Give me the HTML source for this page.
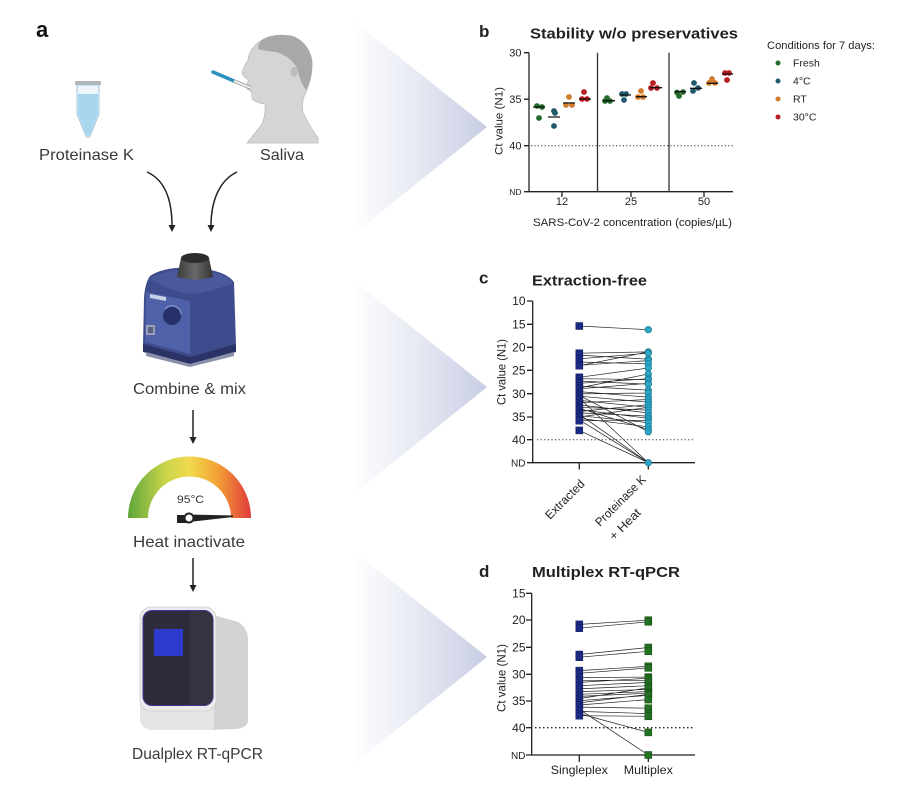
<!DOCTYPE html>
<html><head><meta charset="utf-8"><style>
html,body{margin:0;padding:0;background:#fff;}
svg{display:block;}
text{font-family:"Liberation Sans",Arial,sans-serif;}
</style></head><body>
<svg width="914" height="792" viewBox="0 0 914 792" xmlns="http://www.w3.org/2000/svg">
<defs>
<linearGradient id="chev" x1="0" y1="0" x2="1" y2="0">
<stop offset="0" stop-color="#ffffff"/><stop offset="0.4" stop-color="#eceef6"/><stop offset="1" stop-color="#c8cde3"/>
</linearGradient>
<linearGradient id="gauge" gradientUnits="userSpaceOnUse" x1="128" y1="0" x2="251" y2="0">
<stop offset="0" stop-color="#5fa63c"/><stop offset="0.3" stop-color="#c8d44a"/><stop offset="0.5" stop-color="#f1d94e"/><stop offset="0.72" stop-color="#f2a434"/><stop offset="1" stop-color="#e03a3c"/>
</linearGradient>
<linearGradient id="cap" x1="0" y1="0" x2="1" y2="0">
<stop offset="0" stop-color="#3a3a3a"/><stop offset="0.5" stop-color="#6a6a6a"/><stop offset="1" stop-color="#333"/>
</linearGradient>
</defs>

<!-- chevrons -->
<polygon points="350,18 487,127 350,237" fill="url(#chev)"/>
<polygon points="350,278 487,387 350,497" fill="url(#chev)"/>
<polygon points="350,548 487,657 350,767" fill="url(#chev)"/>

<!-- Panel a -->
<text x="36" y="37" font-size="22" font-weight="bold" fill="#111">a</text>

<!-- tube -->
<rect x="75" y="81" width="26" height="4" rx="1" fill="#b5b5b5"/>
<path d="M77,85 L99,85 L99,114 L90,136 Q88,139 86,136 L77,114 Z" fill="#eef6fb" stroke="#9cc4dc" stroke-width="1"/>
<path d="M78,94 L98,94 L98,114 L89.5,135 Q88,137 86.5,135 L78,114 Z" fill="#a9d5ef"/>

<!-- person -->
<path d="M262,40 Q273,33 292,36 Q308,42 312,60 Q313,78 305,94 Q301,104 303,112 Q308,124 318,138 L318,143 L247,143 Q256,132 262,124 Q266,114 265,104 Q258,103 253,100 Q251,96 252,92 L247,89 Q246,84 249,80 Q244,78 242,73 Q244,66 248,60 Q249,48 262,40 Z" fill="#d5d5d5" stroke="#bdbdbd" stroke-width="0.8"/>
<path d="M262,40 Q273,33 292,36 Q308,42 312,60 Q313,76 306,90 Q300,82 297,68 Q290,56 276,52 Q266,51 258,49 Q258,44 262,40 Z" fill="#a8a8a8"/>
<ellipse cx="294" cy="72" rx="3.5" ry="5" fill="#bcbcbc"/>
<line x1="213" y1="72" x2="234" y2="81" stroke="#2e90bf" stroke-width="3.5" stroke-linecap="round"/>
<line x1="234" y1="81" x2="251" y2="88" stroke="#999" stroke-width="3.5"/>
<line x1="234" y1="81" x2="251" y2="88" stroke="#f2f2f2" stroke-width="2"/>

<text x="39" y="160" font-size="16" fill="#3a3a3a" textLength="95" lengthAdjust="spacingAndGlyphs">Proteinase K</text>
<text x="260" y="160" font-size="16" fill="#3a3a3a" textLength="44" lengthAdjust="spacingAndGlyphs">Saliva</text>

<!-- curved arrows -->
<path d="M147,172 C165,180 172,200 172,226" fill="none" stroke="#222" stroke-width="1.5"/>
<polygon points="168.5,225 175.5,225 172,232" fill="#222"/>
<path d="M237,172 C220,180 211,200 211,226" fill="none" stroke="#222" stroke-width="1.5"/>
<polygon points="207.5,225 214.5,225 211,232" fill="#222"/>

<!-- vortex -->
<path d="M150,276 Q165,266 195,268 Q225,270 234,282 L236,345 Q214,356 190,362 Q165,356 143,346 L144,298 Q145,283 150,276 Z" fill="#3e4b8c"/>
<path d="M150,278 Q170,268 195,270 Q225,272 233,283 Q212,292 190,294 Q165,290 150,278 Z" fill="#4a589c"/>
<path d="M146,292 L190,301 L190,354 L145,342 Z" fill="#4f61a8"/>
<polygon points="150,294 166,297 166,301 150,298" fill="#c9d0ea"/>
<circle cx="172" cy="316" r="9" fill="#27306b"/>
<path d="M165,309 A9,9 0 0 1 181,314" fill="none" stroke="#8e9ad0" stroke-width="1"/>
<rect x="146" y="325" width="9" height="10" fill="#9aa0b8"/>
<rect x="148" y="327" width="5" height="6" fill="#5a6080"/>
<path d="M143,344 L190,357 L236,344 L236,352 L190,364 L143,352 Z" fill="#2b3366"/>
<path d="M146,352 L190,364 L234,352 L234,356 L190,367 L146,356 Z" fill="#8a90aa"/>
<path d="M181,258 L209,258 L213,277 Q195,282 177,277 Z" fill="url(#cap)"/>
<ellipse cx="195" cy="258" rx="14" ry="5" fill="#2c2c2c"/>

<text x="133" y="394" font-size="16" fill="#3a3a3a" textLength="113" lengthAdjust="spacingAndGlyphs">Combine &amp; mix</text>

<!-- arrow -->
<line x1="193" y1="410" x2="193" y2="438" stroke="#222" stroke-width="1.5"/>
<polygon points="189.5,437 196.5,437 193,444" fill="#222"/>

<!-- gauge -->
<path d="M128,518 A61.5,61.5 0 0 1 251,518 L231,518 A41.5,41.5 0 0 0 148,518 Z" fill="url(#gauge)"/>
<text x="177" y="503" font-size="11" fill="#333" textLength="27" lengthAdjust="spacingAndGlyphs">95°C</text>
<polygon points="189,514.5 233,515.5 233,517 189,522" fill="#222"/>
<rect x="177" y="515" width="11" height="8" fill="#222"/>
<circle cx="189" cy="518" r="4.5" fill="#fff" stroke="#222" stroke-width="2"/>

<text x="133" y="547" font-size="16" fill="#3a3a3a" textLength="112" lengthAdjust="spacingAndGlyphs">Heat inactivate</text>

<line x1="193" y1="558" x2="193" y2="586" stroke="#222" stroke-width="1.5"/>
<polygon points="189.5,585 196.5,585 193,592" fill="#222"/>

<!-- qPCR machine -->
<path d="M210,614 L238,622 Q248,628 248,640 L248,722 Q246,728 236,729 L210,730 Z" fill="#d3d3d3"/>
<path d="M140,698 L214,698 L214,730 L150,730 Q141,728 140,720 Z" fill="#e4e4e4"/>
<rect x="140" y="607" width="76" height="104" rx="11" fill="#ebebeb" stroke="#d0d0d0" stroke-width="0.8"/>
<rect x="143" y="610.5" width="70" height="95" rx="9" fill="#2e2c3c" stroke="#3b3a9a" stroke-width="1"/>
<path d="M190,611 L204,611 Q213,612 213,622 L213,696 Q212,704 204,705 L190,705 Z" fill="#35333f"/>
<rect x="154" y="629" width="29" height="27" fill="#2c3bcc"/>

<text x="132" y="759" font-size="16" fill="#3a3a3a" textLength="131" lengthAdjust="spacingAndGlyphs">Dualplex RT-qPCR</text>

<!-- ============ Panel b ============ -->
<g fill="#222">
<text x="479" y="37" font-size="17" font-weight="bold">b</text>
<text x="530" y="38.5" font-size="15" font-weight="bold" textLength="208" lengthAdjust="spacingAndGlyphs">Stability w/o preservatives</text>
<g font-size="11" text-anchor="end">
<text x="521.5" y="56.5">30</text>
<text x="521.5" y="103">35</text>
<text x="521.5" y="149.5">40</text>
<text x="521.5" y="194.8" font-size="8.5">ND</text>
</g>
<g font-size="11" text-anchor="middle">
<text x="562" y="205">12</text>
<text x="631" y="205">25</text>
<text x="704" y="205">50</text>
</g>
<text x="632.5" y="226" font-size="11" text-anchor="middle" textLength="199" lengthAdjust="spacingAndGlyphs">SARS-CoV-2 concentration (copies/µL)</text>
<text transform="translate(502.5,121) rotate(-90)" font-size="11" text-anchor="middle" textLength="68" lengthAdjust="spacingAndGlyphs">Ct value (N1)</text>
</g>
<g stroke="#222" stroke-width="1.3" fill="none">
<path d="M529,52.7 L529,191.7 L733,191.7"/>
<path d="M524,52.7 H529 M524,99.2 H529 M524,145.7 H529 M524,191.7 H529"/>
<path d="M562,191.7 V197 M631,191.7 V197 M704,191.7 V197"/>
<path d="M597.5,52.7 V191.7 M669,52.7 V191.7" stroke="#333"/>
</g>
<line x1="531" y1="145.7" x2="733" y2="145.7" stroke="#333" stroke-width="1" stroke-dasharray="1.2 2.2"/>

<!-- b dots -->
<g fill="#226b2c">
<circle cx="537" cy="106" r="2.9"/><circle cx="542" cy="107" r="2.9"/><circle cx="539" cy="118" r="2.9"/>
<circle cx="607" cy="98" r="2.9"/><circle cx="610" cy="101" r="2.9"/><circle cx="605" cy="101" r="2.9"/>
<circle cx="679" cy="96" r="2.9"/><circle cx="683" cy="92" r="2.9"/><circle cx="677" cy="92.5" r="2.9"/>
</g>
<g fill="#1e5a6c">
<circle cx="554" cy="111" r="2.9"/><circle cx="555" cy="113" r="2.9"/><circle cx="554" cy="126" r="2.9"/>
<circle cx="622" cy="94" r="2.9"/><circle cx="626" cy="94" r="2.9"/><circle cx="624" cy="100" r="2.9"/>
<circle cx="694" cy="83" r="2.9"/><circle cx="693" cy="91" r="2.9"/><circle cx="698" cy="88" r="2.9"/>
</g>
<g fill="#d27b2a">
<circle cx="569" cy="97" r="2.9"/><circle cx="566" cy="105" r="2.9"/><circle cx="572" cy="105" r="2.9"/>
<circle cx="641" cy="91" r="2.9"/><circle cx="638" cy="97" r="2.9"/><circle cx="643" cy="97" r="2.9"/>
<circle cx="712" cy="79" r="2.9"/><circle cx="709" cy="83" r="2.9"/><circle cx="715" cy="83" r="2.9"/>
</g>
<g fill="#b81d22">
<circle cx="584" cy="92" r="2.9"/><circle cx="582" cy="99" r="2.9"/><circle cx="587" cy="99" r="2.9"/>
<circle cx="653" cy="83" r="2.9"/><circle cx="651" cy="88" r="2.9"/><circle cx="657" cy="88" r="2.9"/>
<circle cx="725" cy="73" r="2.9"/><circle cx="729" cy="73" r="2.9"/><circle cx="727" cy="80" r="2.9"/>
</g>
<g stroke="#111" stroke-width="1.3">
<path d="M533,107 H545 M548,117 H560 M563,103 H575 M579,99 H591"/>
<path d="M603,100.7 H615 M620,95 H631 M636,96.7 H647 M650,87.7 H662"/>
<path d="M675,91.7 H686 M690,88.3 H702 M707,83.3 H718 M722,74 H733"/>
</g>

<!-- legend -->
<g fill="#222" font-size="10.5">
<text x="767" y="49" font-size="10.8" textLength="108" lengthAdjust="spacingAndGlyphs">Conditions for 7 days:</text>
<text x="793" y="66.5">Fresh</text>
<text x="793" y="84.5">4°C</text>
<text x="793" y="102.5">RT</text>
<text x="793" y="120.5">30°C</text>
</g>
<circle cx="778" cy="63" r="2.5" fill="#226b2c"/>
<circle cx="778" cy="81" r="2.5" fill="#1e5a6c"/>
<circle cx="778" cy="99" r="2.5" fill="#d27b2a"/>
<circle cx="778" cy="117" r="2.5" fill="#b81d22"/>

<!-- ============ Panel c ============ -->
<g fill="#222">
<text x="479" y="283.5" font-size="17" font-weight="bold">c</text>
<text x="532" y="285.5" font-size="15" font-weight="bold" textLength="115" lengthAdjust="spacingAndGlyphs">Extraction-free</text>
<g font-size="12" text-anchor="end">
<text x="525.5" y="305.2">10</text>
<text x="525.5" y="328.5">15</text>
<text x="525.5" y="351.5">20</text>
<text x="525.5" y="374.5">25</text>
<text x="525.5" y="397.9">30</text>
<text x="525.5" y="421.2">35</text>
<text x="525.5" y="443.9">40</text>
<text x="525.5" y="466.5" font-size="10">ND</text>
</g>
<text transform="translate(505.5,372) rotate(-90)" font-size="12" text-anchor="middle" textLength="66" lengthAdjust="spacingAndGlyphs">Ct value (N1)</text>
<text transform="translate(550,520) rotate(-45)" font-size="12" textLength="50" lengthAdjust="spacingAndGlyphs">Extracted</text>
<text transform="translate(600,527) rotate(-45)" font-size="12" textLength="66" lengthAdjust="spacingAndGlyphs">Proteinase K</text>
<text transform="translate(614,541) rotate(-45)" font-size="12" textLength="39" lengthAdjust="spacingAndGlyphs">+ Heat</text>
</g>
<g stroke="#222" stroke-width="1.3" fill="none">
<path d="M532.7,301 L532.7,462.7 L695,462.7"/>
<path d="M527,301 H532.7 M527,324.3 H532.7 M527,347.3 H532.7 M527,370.3 H532.7 M527,393.7 H532.7 M527,417 H532.7 M527,439.7 H532.7 M527,462.7 H532.7"/>
<path d="M579.3,462.7 V469.5 M648.3,462.7 V469.5"/>
</g>
<line x1="537" y1="439.7" x2="695" y2="439.7" stroke="#333" stroke-width="1" stroke-dasharray="1.2 2.4"/>
<path stroke="#222" stroke-width="0.7" fill="none" d="M579.3,326 L648.3,329.7 M579.3,353.2 L648.3,351.9 M579.3,355.1 L648.3,359.2 M579.3,358.8 L648.3,353.2 M579.3,362 L648.3,363.9 M579.3,365.3 L648.3,360.6 M579.3,365.7 L648.3,351.9 M579.3,377.3 L648.3,368 M579.3,378.7 L648.3,379.6 M579.3,381 L648.3,384.2 M579.3,383.3 L648.3,378.7 M579.3,386.1 L648.3,390.2 M579.3,388.8 L648.3,383.3 M579.3,391.6 L648.3,397.2 M579.3,393.9 L648.3,393 M579.3,396.2 L648.3,402.2 M579.3,398.1 L648.3,462.7 M579.3,400.4 L648.3,407.3 M579.3,402.7 L648.3,399.5 M579.3,405 L648.3,412.9 M579.3,407.3 L648.3,410.1 M579.3,409.6 L648.3,418.4 M579.3,411.5 L648.3,404.6 M579.3,412.9 L648.3,416.1 M579.3,414.3 L648.3,462.7 M579.3,415.7 L648.3,422.6 M579.3,417 L648.3,407.3 M579.3,418.4 L648.3,426.8 M579.3,419.8 L648.3,462.7 M579.3,420.7 L648.3,420.3 M579.3,430.4 L648.3,462.7 M579.3,408.3 L648.3,429.5 M579.3,395.3 L648.3,431.8 M579.3,387.9 L648.3,374"/>
<g fill="#1b2a83" stroke="#101c5c" stroke-width="0.5">
<rect x="575.8" y="322.5" width="7" height="7"/><rect x="575.8" y="349.7" width="7" height="7"/><rect x="575.8" y="351.6" width="7" height="7"/><rect x="575.8" y="355.3" width="7" height="7"/><rect x="575.8" y="358.5" width="7" height="7"/><rect x="575.8" y="361.8" width="7" height="7"/><rect x="575.8" y="362.2" width="7" height="7"/><rect x="575.8" y="373.8" width="7" height="7"/><rect x="575.8" y="375.2" width="7" height="7"/><rect x="575.8" y="377.5" width="7" height="7"/><rect x="575.8" y="379.8" width="7" height="7"/><rect x="575.8" y="382.6" width="7" height="7"/><rect x="575.8" y="384.4" width="7" height="7"/><rect x="575.8" y="385.3" width="7" height="7"/><rect x="575.8" y="388.1" width="7" height="7"/><rect x="575.8" y="390.4" width="7" height="7"/><rect x="575.8" y="391.8" width="7" height="7"/><rect x="575.8" y="392.7" width="7" height="7"/><rect x="575.8" y="394.6" width="7" height="7"/><rect x="575.8" y="396.9" width="7" height="7"/><rect x="575.8" y="399.2" width="7" height="7"/><rect x="575.8" y="401.5" width="7" height="7"/><rect x="575.8" y="403.8" width="7" height="7"/><rect x="575.8" y="404.8" width="7" height="7"/><rect x="575.8" y="406.1" width="7" height="7"/><rect x="575.8" y="408" width="7" height="7"/><rect x="575.8" y="409.4" width="7" height="7"/><rect x="575.8" y="410.8" width="7" height="7"/><rect x="575.8" y="412.2" width="7" height="7"/><rect x="575.8" y="413.5" width="7" height="7"/><rect x="575.8" y="414.9" width="7" height="7"/><rect x="575.8" y="416.3" width="7" height="7"/><rect x="575.8" y="417.2" width="7" height="7"/><rect x="575.8" y="426.9" width="7" height="7"/>
</g>
<g fill="#2ba6c6" stroke="#16718a" stroke-width="0.6">
<circle cx="648.3" cy="329.7" r="3.3"/><circle cx="648.3" cy="351.9" r="3.3"/><circle cx="648.3" cy="353.2" r="3.3"/><circle cx="648.3" cy="359.2" r="3.3"/><circle cx="648.3" cy="360.6" r="3.3"/><circle cx="648.3" cy="363.9" r="3.3"/><circle cx="648.3" cy="368" r="3.3"/><circle cx="648.3" cy="374" r="3.3"/><circle cx="648.3" cy="378.7" r="3.3"/><circle cx="648.3" cy="379.6" r="3.3"/><circle cx="648.3" cy="383.3" r="3.3"/><circle cx="648.3" cy="384.2" r="3.3"/><circle cx="648.3" cy="390.2" r="3.3"/><circle cx="648.3" cy="393" r="3.3"/><circle cx="648.3" cy="397.2" r="3.3"/><circle cx="648.3" cy="399.5" r="3.3"/><circle cx="648.3" cy="402.2" r="3.3"/><circle cx="648.3" cy="404.6" r="3.3"/><circle cx="648.3" cy="407.3" r="3.3"/><circle cx="648.3" cy="410.1" r="3.3"/><circle cx="648.3" cy="412.9" r="3.3"/><circle cx="648.3" cy="416.1" r="3.3"/><circle cx="648.3" cy="418.4" r="3.3"/><circle cx="648.3" cy="420.3" r="3.3"/><circle cx="648.3" cy="422.6" r="3.3"/><circle cx="648.3" cy="426.8" r="3.3"/><circle cx="648.3" cy="429.5" r="3.3"/><circle cx="648.3" cy="431.8" r="3.3"/><circle cx="648.3" cy="462.7" r="3.3"/>
</g>

<!-- ============ Panel d ============ -->
<g fill="#222">
<text x="479" y="577" font-size="17" font-weight="bold">d</text>
<text x="532" y="577" font-size="15" font-weight="bold" textLength="148" lengthAdjust="spacingAndGlyphs">Multiplex RT-qPCR</text>
<g font-size="12" text-anchor="end">
<text x="525.5" y="597.5">15</text>
<text x="525.5" y="624.2">20</text>
<text x="525.5" y="651.5">25</text>
<text x="525.5" y="678.5">30</text>
<text x="525.5" y="705.2">35</text>
<text x="525.5" y="731.9">40</text>
<text x="525.5" y="758.8" font-size="10">ND</text>
</g>
<text transform="translate(505.5,678) rotate(-90)" font-size="12" text-anchor="middle" textLength="68" lengthAdjust="spacingAndGlyphs">Ct value (N1)</text>
<text x="579.3" y="774" font-size="12" text-anchor="middle" textLength="57" lengthAdjust="spacingAndGlyphs">Singleplex</text>
<text x="648.3" y="774" font-size="12" text-anchor="middle" textLength="49" lengthAdjust="spacingAndGlyphs">Multiplex</text>
</g>
<g stroke="#222" stroke-width="1.3" fill="none">
<path d="M531.7,593.3 L531.7,755 L695,755"/>
<path d="M526,593.3 H531.7 M526,620 H531.7 M526,647.3 H531.7 M526,674.3 H531.7 M526,701 H531.7 M526,727.7 H531.7 M526,755 H531.7"/>
<path d="M579.3,755 V762 M648.3,755 V762"/>
</g>
<line x1="535" y1="727.7" x2="695" y2="727.7" stroke="#222" stroke-width="1.3" stroke-dasharray="1.5 2.5"/>
<path stroke="#222" stroke-width="0.7" fill="none" d="M579.3,624.4 L648.3,620.2 M579.3,628.2 L648.3,621.8 M579.3,654.5 L648.3,647.5 M579.3,657.2 L648.3,651.3 M579.3,670.6 L648.3,666.3 M579.3,673.3 L648.3,667.9 M579.3,677.6 L648.3,677.1 M579.3,682.4 L648.3,678.2 M579.3,685.7 L648.3,682.4 M579.3,688.9 L648.3,685.7 M579.3,691.6 L648.3,689.4 M579.3,694.3 L648.3,691.6 M579.3,696.4 L648.3,693.2 M579.3,698.6 L648.3,687.8 M579.3,700.7 L648.3,695.3 M579.3,702.9 L648.3,694.3 M579.3,705 L648.3,699.6 M579.3,707.1 L648.3,708.2 M579.3,709.3 L648.3,755 M579.3,711.4 L648.3,713.6 M579.3,713.6 L648.3,732.4 M579.3,715.7 L648.3,716.3 M579.3,680.3 L648.3,680.3"/>
<g fill="#1b2a83" stroke="#101c5c" stroke-width="0.5">
<rect x="575.8" y="620.9" width="7" height="7"/><rect x="575.8" y="624.7" width="7" height="7"/><rect x="575.8" y="651" width="7" height="7"/><rect x="575.8" y="653.7" width="7" height="7"/><rect x="575.8" y="667.1" width="7" height="7"/><rect x="575.8" y="669.8" width="7" height="7"/><rect x="575.8" y="674.1" width="7" height="7"/><rect x="575.8" y="676.8" width="7" height="7"/><rect x="575.8" y="678.9" width="7" height="7"/><rect x="575.8" y="682.2" width="7" height="7"/><rect x="575.8" y="685.4" width="7" height="7"/><rect x="575.8" y="688.1" width="7" height="7"/><rect x="575.8" y="690.8" width="7" height="7"/><rect x="575.8" y="692.9" width="7" height="7"/><rect x="575.8" y="695.1" width="7" height="7"/><rect x="575.8" y="697.2" width="7" height="7"/><rect x="575.8" y="699.4" width="7" height="7"/><rect x="575.8" y="701.5" width="7" height="7"/><rect x="575.8" y="703.6" width="7" height="7"/><rect x="575.8" y="705.8" width="7" height="7"/><rect x="575.8" y="707.9" width="7" height="7"/><rect x="575.8" y="710.1" width="7" height="7"/><rect x="575.8" y="712.2" width="7" height="7"/>
</g>
<g fill="#237023" stroke="#0f4a0f" stroke-width="0.5">
<rect x="644.8" y="616.7" width="7" height="7"/><rect x="644.8" y="618.3" width="7" height="7"/><rect x="644.8" y="644" width="7" height="7"/><rect x="644.8" y="647.8" width="7" height="7"/><rect x="644.8" y="662.8" width="7" height="7"/><rect x="644.8" y="664.4" width="7" height="7"/><rect x="644.8" y="673.6" width="7" height="7"/><rect x="644.8" y="674.7" width="7" height="7"/><rect x="644.8" y="676.8" width="7" height="7"/><rect x="644.8" y="678.9" width="7" height="7"/><rect x="644.8" y="682.2" width="7" height="7"/><rect x="644.8" y="684.3" width="7" height="7"/><rect x="644.8" y="685.9" width="7" height="7"/><rect x="644.8" y="688.1" width="7" height="7"/><rect x="644.8" y="689.7" width="7" height="7"/><rect x="644.8" y="690.8" width="7" height="7"/><rect x="644.8" y="691.8" width="7" height="7"/><rect x="644.8" y="696.1" width="7" height="7"/><rect x="644.8" y="704.7" width="7" height="7"/><rect x="644.8" y="710.1" width="7" height="7"/><rect x="644.8" y="712.8" width="7" height="7"/><rect x="644.8" y="728.9" width="7" height="7"/><rect x="644.8" y="751.5" width="7" height="7"/>
</g>
</svg>
</body></html>
